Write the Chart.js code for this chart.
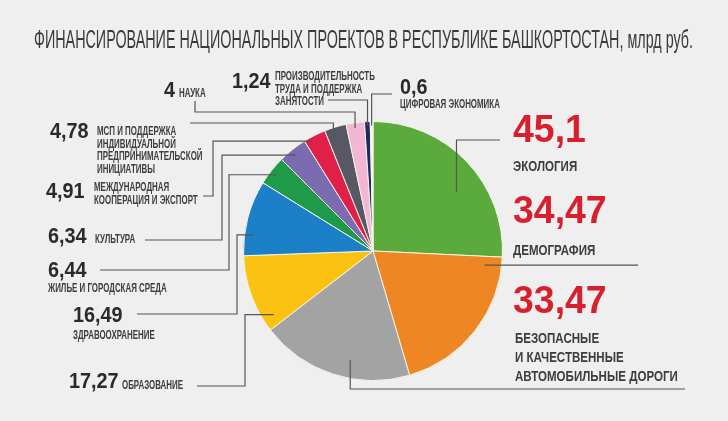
<!DOCTYPE html>
<html>
<head>
<meta charset="utf-8">
<script src="https://cdn.jsdelivr.net/npm/chart.js@4/dist/chart.umd.min.js"></script>
<style>
  html, body { margin: 0; padding: 0; background: #efefef; }
  canvas { display: block; }
</style>
</head>
<body>
<canvas id="chart" width="728" height="421"></canvas>
<script>
// Данные
const title = 'ФИНАНСИРОВАНИЕ НАЦИОНАЛЬНЫХ ПРОЕКТОВ В РЕСПУБЛИКЕ БАШКОРТОСТАН, млрд руб.';
const categories = [
    ['ЭКОЛОГИЯ'],
    ['ДЕМОГРАФИЯ'],
    ['БЕЗОПАСНЫЕ', 'И КАЧЕСТВЕННЫЕ', 'АВТОМОБИЛЬНЫЕ ДОРОГИ'],
    ['ОБРАЗОВАНИЕ'],
    ['ЗДРАВООХРАНЕНИЕ'],
    ['ЖИЛЬЕ И ГОРОДСКАЯ СРЕДА'],
    ['КУЛЬТУРА'],
    ['МЕЖДУНАРОДНАЯ', 'КООПЕРАЦИЯ И ЭКСПОРТ'],
    ['МСП И ПОДДЕРЖКА', 'ИНДИВИДУАЛЬНОЙ', 'ПРЕДПРИНИМАТЕЛЬСКОЙ', 'ИНИЦИАТИВЫ'],
    ['НАУКА'],
    ['ПРОИЗВОДИТЕЛЬНОСТЬ', 'ТРУДА И ПОДДЕРЖКА', 'ЗАНЯТОСТИ'],
    ['ЦИФРОВАЯ ЭКОНОМИКА']
];
const values = [45.1, 34.47, 33.47, 17.27, 16.49, 6.44, 6.34, 4.91, 4.78, 4, 1.24, 0.6];
const colors = ['#5aab3c', '#ee8623', '#a3a3a3', '#fcc212', '#1c80c9', '#1f9a48',
                '#7b6cb1', '#e1204a', '#575864', '#f2b7d5', '#1f2b5e', '#f3f3f3'];

// Размещение подписей и выносок
const layout = [
    { num: [513, 142], big: true, cat: [513, 171], lead: [[500, 140]], conn: 'hv', t: 0.59, rf: 0.79 },
    { num: [513, 223], big: true, cat: [513, 255], lead: [[638, null]], conn: 'hv', t: 0.063, rf: 0.87 },
    { num: [513, 313], big: true, cat: [515, 343], lead: [[685, 389]], conn: 'hv', t: 0.41, rf: 0.86 },
    { num: [69, 388], cat: [122, 389], lead: [[197, 386], [245, 386]], conn: 'vh', t: 0.14, rf: 0.91 },
    { num: [73, 322], cat: [73, 339], lead: [[137, 314], [237, 314]], conn: 'vh', t: 0.29, rf: 0.93 },
    { num: [48, 277], cat: [48, 292], lead: [[100, 270], [229, 270]], conn: 'vh', t: 0.49, rf: 0.95 },
    { num: [48, 243], cat: [95, 243], lead: [[145, 240], [222, 240]], conn: 'vh', t: 0.47, rf: 0.95 },
    { num: [46, 198], cat: [94, 191], lead: [[203, 196], [213, 196]], conn: 'vh', t: 0.3, rf: 0.97 },
    { num: [50, 138], cat: [97, 135], lead: [[190, 123]], conn: 'hv', t: 0.35, rf: 0.97 },
    { num: [164, 97], cat: [179, 97], lead: [[195, 101], [195, 112]], conn: 'hv', t: 0.45, rf: 0.96 },
    { num: [232, 88], cat: [275, 80], lead: [[328, 100]], conn: 'hv', t: 0.5, rf: 0.97 },
    { num: [400, 94], cat: [400, 108], lead: [[392, 94]], conn: 'hv', t: 0.5, rf: 0.97 }
];

function fmt(v) {
    return String(v).replace('.', ',');
}

function drawText(ctx, s, x, y, font, color, sx) {
    ctx.save();
    ctx.font = font;
    ctx.fillStyle = color;
    ctx.textAlign = 'left';
    ctx.textBaseline = 'alphabetic';
    ctx.translate(x, y);
    ctx.scale(sx, 1);
    ctx.fillText(s, 0, 0);
    ctx.restore();
}

const background = {
    id: 'background',
    beforeDraw(chart) {
        const ctx = chart.ctx;
        ctx.save();
        ctx.fillStyle = '#efefef';
        ctx.fillRect(0, 0, chart.width, chart.height);
        ctx.restore();
    }
};

const annotations = {
    id: 'annotations',
    afterDraw(chart) {
        const ctx = chart.ctx;
        const meta = chart.getDatasetMeta(0);

        // Заголовок
        ctx.save();
        ctx.font = '26px "Liberation Sans", Arial, sans-serif';
        ctx.fillStyle = '#3a3a3a';
        ctx.fillText(title, 34, 48, 659);
        ctx.restore();

        layout.forEach((l, i) => {
            const arc = meta.data[i];
            const p = arc.getProps(['x', 'y', 'startAngle', 'endAngle', 'outerRadius'], true);
            const a = p.startAngle + l.t * (p.endAngle - p.startAngle);
            const ex = p.x + Math.cos(a) * p.outerRadius * l.rf;
            const ey = p.y + Math.sin(a) * p.outerRadius * l.rf;

            // Выноска
            const pts = l.lead.map(q => [q[0], q[1] === null ? ey : q[1]]);
            const last = pts[pts.length - 1];
            if (l.conn === 'hv') pts.push([ex, last[1]]);
            else pts.push([last[0], ey]);
            pts.push([ex, ey]);
            ctx.save();
            ctx.strokeStyle = '#555555';
            ctx.lineWidth = 1.2;
            ctx.beginPath();
            pts.forEach((q, k) => k ? ctx.lineTo(q[0], q[1]) : ctx.moveTo(q[0], q[1]));
            ctx.stroke();
            ctx.restore();

            // Подписи
            if (l.big) {
                drawText(ctx, fmt(values[i]), l.num[0], l.num[1],
                    'bold 39px "Liberation Sans", Arial, sans-serif', '#d81f2e', 0.96);
                categories[i].forEach((s, k) => drawText(ctx, s, l.cat[0], l.cat[1] + k * 19,
                    'bold 15px "Liberation Sans", Arial, sans-serif', '#3d3d3d', 0.77));
            } else {
                drawText(ctx, fmt(values[i]), l.num[0], l.num[1],
                    'bold 22px "Liberation Sans", Arial, sans-serif', '#2a2a2a', 0.9);
                categories[i].forEach((s, k) => drawText(ctx, s, l.cat[0], l.cat[1] + k * 12.5,
                    'bold 12px "Liberation Sans", Arial, sans-serif', '#3d3d3d', 0.66));
            }
        });
    }
};

new Chart(document.getElementById('chart').getContext('2d'), {
    type: 'pie',
    data: {
        labels: categories,
        datasets: [{
            data: values,
            backgroundColor: colors,
            borderColor: '#f7f4e6',
            borderWidth: 1
        }]
    },
    options: {
        responsive: false,
        animation: false,
        devicePixelRatio: 1,
        layout: {
            padding: { left: 243, right: 225, top: 121, bottom: 40 }
        },
        plugins: {
            legend: { display: false },
            tooltip: { enabled: false }
        }
    },
    plugins: [background, annotations]
});
</script>
</body>
</html>
